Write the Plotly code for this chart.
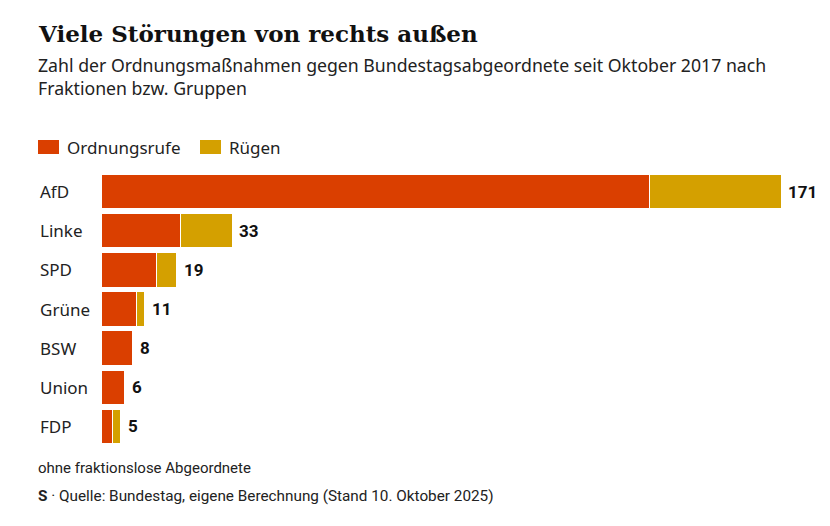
import plotly.graph_objects as go

parties = ["AfD", "Linke", "SPD", "Grüne", "BSW", "Union", "FDP"]
ordnungsrufe = [138, 20, 14, 9, 8, 6, 3]
ruegen = [33, 13, 5, 2, 0, 0, 2]
totals = [171, 33, 19, 11, 8, 6, 5]
series_names = ["Ordnungsrufe", "Rügen"]

RED = "#DA3F00"
GOLD = "#D4A000"
W, H = 830, 526
L, R, T, B = 101, 10, 172, 80
pw = W - L - R
ph = H - T - B
px_per_unit = (781 - 101) / 171

fig = go.Figure()
fig.add_trace(go.Bar(y=parties, x=ordnungsrufe, orientation="h", name=series_names[0],
                     marker=dict(color=RED, line=dict(color="white", width=1))))
fig.add_trace(go.Bar(y=parties, x=ruegen, orientation="h", name=series_names[1],
                     marker=dict(color=GOLD, line=dict(color="white", width=1))))

def xp(px):
    return (px - L) / pw

def yp(py):
    return 1 - (py - T) / ph

ann = []
for p, t in zip(parties, totals):
    ann.append(dict(x=t, y=p, xref="x", yref="y", text=f"<b>{t}</b>", showarrow=False,
                    xanchor="left", xshift=5, font=dict(family="Roboto, Inter, sans-serif", size=17, color="#111")))
    ann.append(dict(x=xp(38), y=p, xref="paper", yref="y", text=p, showarrow=False,
                    xanchor="left", font=dict(family="Noto Sans, sans-serif", size=17, color="#222")))

ann.append(dict(x=xp(36), y=yp(33), xref="paper", yref="paper",
                text="<b>Viele Störungen von rechts außen</b>", showarrow=False, xanchor="left", yanchor="middle",
                font=dict(family="DejaVu Serif, serif", size=23, color="#111")))
ann.append(dict(x=xp(36), y=yp(76), xref="paper", yref="paper",
                text="Zahl der Ordnungsmaßnahmen gegen Bundestagsabgeordnete seit Oktober 2017 nach<br>Fraktionen bzw. Gruppen",
                showarrow=False, xanchor="left", yanchor="middle", align="left",
                font=dict(family="Noto Sans, sans-serif", size=17.7, color="#222")))
ann.append(dict(x=xp(36), y=yp(468), xref="paper", yref="paper",
                text="ohne fraktionslose Abgeordnete", showarrow=False, xanchor="left", yanchor="middle",
                font=dict(family="Roboto, sans-serif", size=15, color="#222")))
ann.append(dict(x=xp(36), y=yp(496), xref="paper", yref="paper",
                text="<b>S</b> · Quelle: Bundestag, eigene Berechnung (Stand 10. Oktober 2025)", showarrow=False,
                xanchor="left", yanchor="middle",
                font=dict(family="Roboto, sans-serif", size=15.3, color="#222")))

# manual legend
shapes = []
legend_items = [(38, 65, series_names[0], RED), (200, 227, series_names[1], GOLD)]
for sx, tx, name, col in legend_items:
    shapes.append(dict(type="rect", xref="paper", yref="paper", x0=xp(sx), x1=xp(sx + 21),
                       y0=yp(154), y1=yp(140), fillcolor=col, line=dict(width=0)))
    ann.append(dict(x=xp(tx), y=yp(147), xref="paper", yref="paper", text=name, showarrow=False,
                    xanchor="left", yanchor="middle", font=dict(family="Noto Sans, sans-serif", size=17, color="#222")))

fig.update_layout(
    width=W, height=H, margin=dict(l=L, r=R, t=T, b=B),
    barmode="stack", bargap=0.12,
    plot_bgcolor="white", paper_bgcolor="white",
    showlegend=False,
    xaxis=dict(range=[0, pw / px_per_unit], visible=False, fixedrange=True),
    yaxis=dict(autorange="reversed", showticklabels=False, showgrid=False, zeroline=False, fixedrange=True),
    annotations=ann, shapes=shapes,
)
fig.write_html("out.html", config={"displayModeBar": False},
               post_script="document.body.style.margin='0';document.body.style.overflow='hidden';")
